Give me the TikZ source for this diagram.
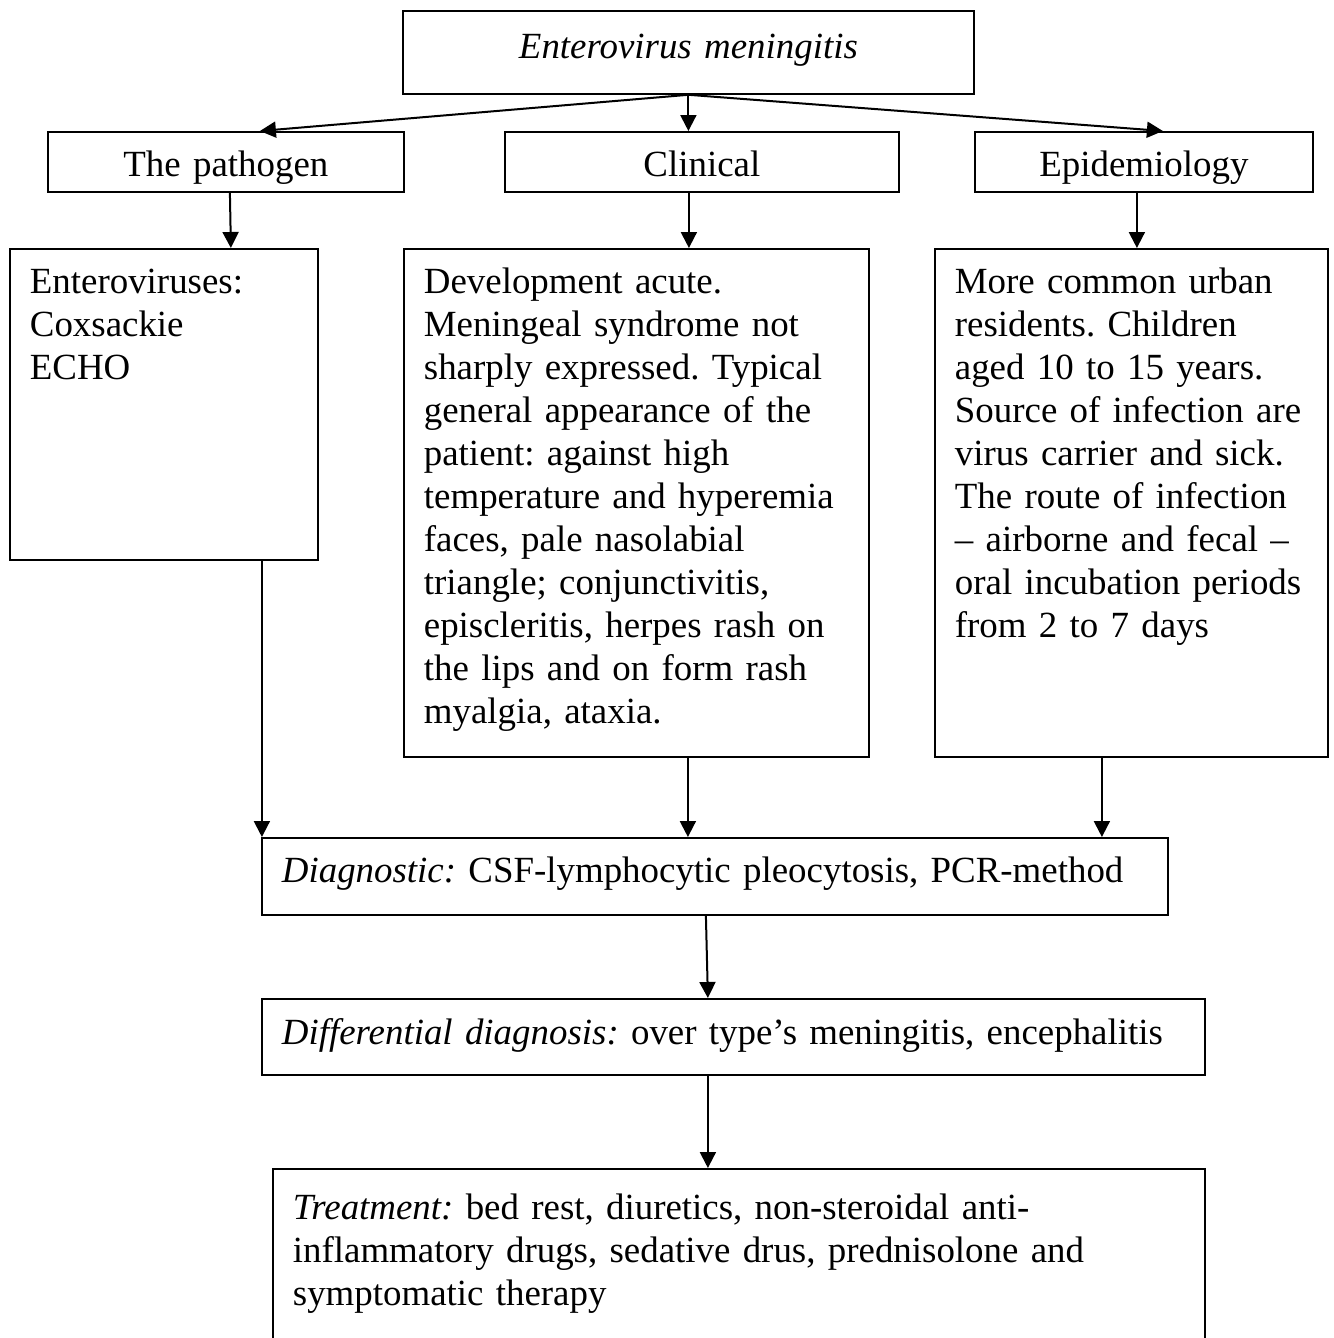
\documentclass[tikz,border=0pt]{standalone}
\usepackage{fontspec}
\setmainfont{Liberation Serif}
\usetikzlibrary{arrows.meta}
\tikzset{
  box/.style={draw, line width=1.8pt, anchor=north west, inner ysep=0pt,
    inner xsep=20pt, align=left, font=\fontsize{36.9pt}{43pt}\selectfont\frenchspacing},
  arr/.style={-{Triangle[length=16pt,width=16pt]}, line width=2pt}
}

\begin{document}
\begin{tikzpicture}[x=1pt,y=-1pt]
\useasboundingbox (0,0) rectangle (1333,1338);
\clip (0,0) rectangle (1333,1338);
% header
\node[box,align=center,text width=531pt,text height=48pt,text depth=35pt] (EM) at (402,10) {\textit{Enterovirus meningitis}};
% three branches
\node[box,align=center,text width=316pt,text height=45pt,text depth=15pt] (PAT) at (47,131) {The pathogen};
\node[box,align=center,text width=354pt,text height=45pt,text depth=15pt] (CLI) at (504,131) {Clinical};
\node[box,align=center,text width=298pt,text height=45pt,text depth=15pt] (EPI) at (974,131) {Epidemiology};
% details
\node[box,text width=268pt,text height=45pt,text depth=266pt] (ENT) at (9,248) {Enteroviruses:\\Coxsackie\\ECHO};
\node[box,text width=425pt,text height=45pt,text depth=463pt] (DEV) at (403,248) {Development acute.\\Meningeal syndrome not\\sharply expressed. Typical\\general appearance of the\\patient: against high\\temperature and hyperemia\\faces, pale nasolabial\\triangle; conjunctivitis,\\episcleritis, herpes rash on\\the lips and on form rash\\myalgia, ataxia.};
\node[box,text width=353pt,text height=45pt,text depth=463pt] (URB) at (934,248) {More common urban\\residents. Children\\aged 10 to 15 years.\\Source of infection are\\virus carrier and sick.\\The route of infection\\– airborne and fecal –\\oral incubation periods\\from 2 to 7 days};
% bottom chain
\node[box,text width=866pt,text height=45pt,text depth=32pt] (DIA) at (261,837) {\textit{Diagnostic:} CSF-lymphocytic pleocytosis, PCR-method};
\node[box,text width=903pt,text height=46pt,text depth=30pt] (DIF) at (261,998) {\textit{Differential diagnosis:} over type’s meningitis, encephalitis};
\node[box,text width=892pt,text height=51pt,text depth=141pt] (TRE) at (272,1168) {\textit{Treatment:} bed rest, diuretics, non-steroidal anti-\\inflammatory drugs, sedative drus, prednisolone and\\symptomatic therapy};
% arrows
\draw[arr] (EM.south) -- ([xshift=34pt]PAT.north);
\draw[arr] (EM.south) -- (EM.south |- CLI.north);
\draw[arr] (EM.south) -- ([xshift=19pt]EPI.north);
\draw[arr] ([xshift=4pt]PAT.south) -- ([xshift=67pt]ENT.north);
\draw[arr] ([xshift=-13pt]CLI.south) coordinate (c1) -- (c1 |- DEV.north);
\draw[arr] ([xshift=-7pt]EPI.south) coordinate (c2) -- (c2 |- URB.north);
\draw[arr] ([xshift=98pt]ENT.south) coordinate (c3) -- (c3 |- DIA.north);
\draw[arr] ([xshift=51.5pt]DEV.south) coordinate (c4) -- (c4 |- DIA.north);
\draw[arr] ([xshift=-29.5pt]URB.south) coordinate (c5) -- (c5 |- DIA.north);
\draw[arr] ([xshift=-9pt]DIA.south) -- ([xshift=-25.5pt]DIF.north);
\draw[arr] ([xshift=-25.5pt]DIF.south) coordinate (c6) -- (c6 |- TRE.north);
\end{tikzpicture}
\end{document}
